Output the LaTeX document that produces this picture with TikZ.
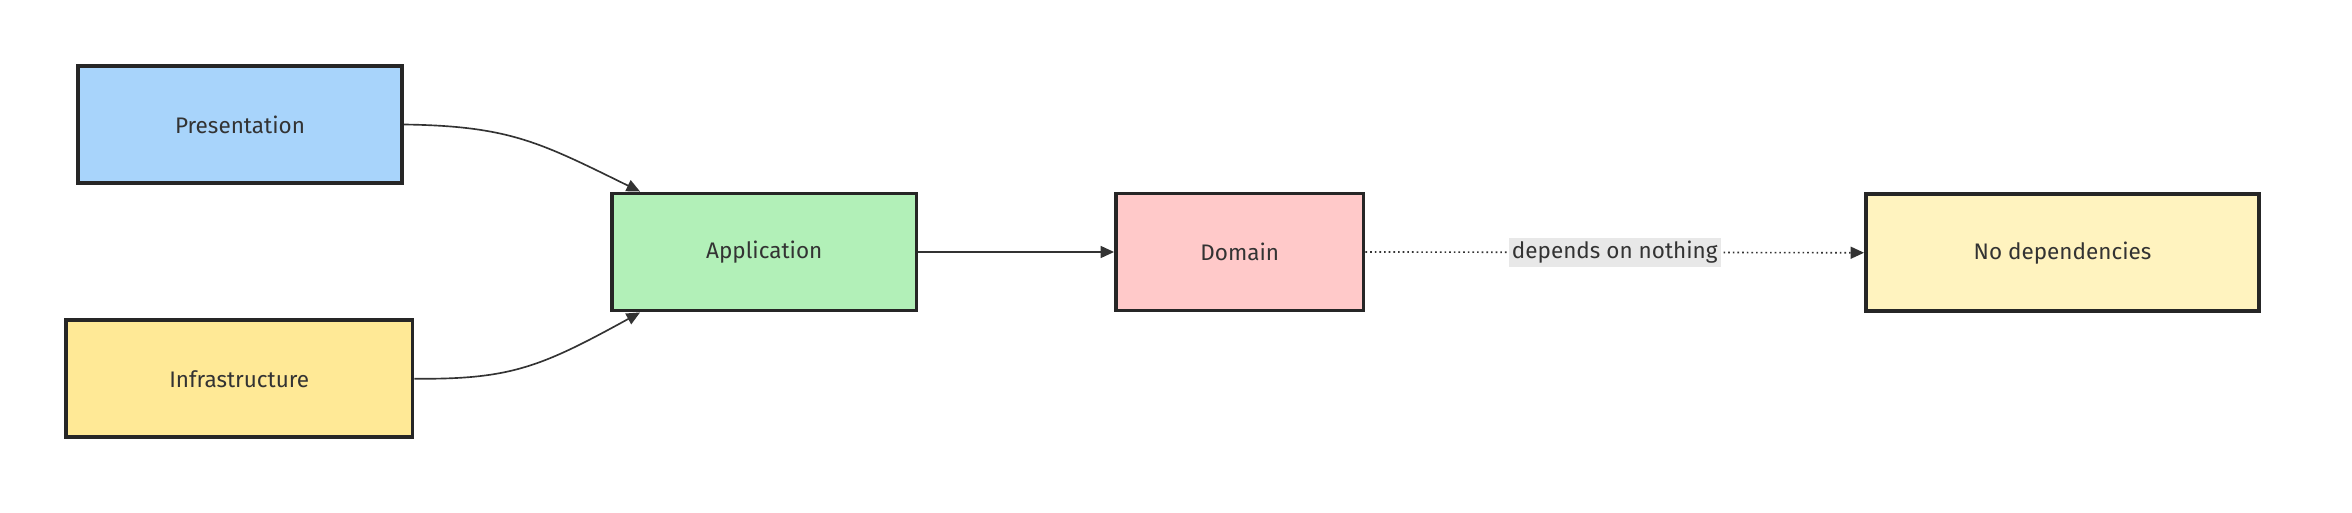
\documentclass[tikz,border=0pt]{standalone}
\usepackage{fontspec}
\setmainfont{Fira Sans}
\usetikzlibrary{arrows.meta,patterns}
\begin{document}
\begin{tikzpicture}[x=1pt,y=-1pt,
  box/.style={draw=black!85,line width=2.6pt,minimum height=78pt,inner sep=0pt,font=\fontsize{15}{18}\selectfont\color{black!80}},
  arr/.style={draw=black!80,line width=1.1pt,-{Triangle[length=9pt,width=8pt]}}]
\useasboundingbox (0,0) rectangle (1568,342);
\node[box,fill={rgb,255:red,168;green,212;blue,251},minimum width=216pt] (p) at (160,83) {Presentation};
\node[box,fill={rgb,255:red,255;green,233;blue,150},minimum width=231pt] (i) at (159.5,252.5) {Infrastructure};
\node[box,fill={rgb,255:red,178;green,240;blue,184},minimum width=203pt] (a) at (509.5,168) {Application};
\node[box,fill={rgb,255:red,255;green,201;blue,201},minimum width=165pt] (d) at (826.5,168) {Domain};
\node[box,fill={rgb,255:red,255;green,243;blue,191},minimum width=262pt] (n) at (1375,168.5) {No dependencies};
\draw[arr] (p.east) .. controls (340,84) and (360,95) .. ([xshift=20pt]a.north west);
\draw[arr] (i.east) .. controls (340,253) and (360,245) .. ([xshift=20pt]a.south west);
\draw[arr] (a.east) -- (d.west);
\draw[arr,dotted] (d.east) -- node[fill=black!9,inner sep=2pt,font=\fontsize{15}{18}\selectfont\color{black!80}] (l) {depends on nothing} (n.west);
\end{tikzpicture}
\end{document}
